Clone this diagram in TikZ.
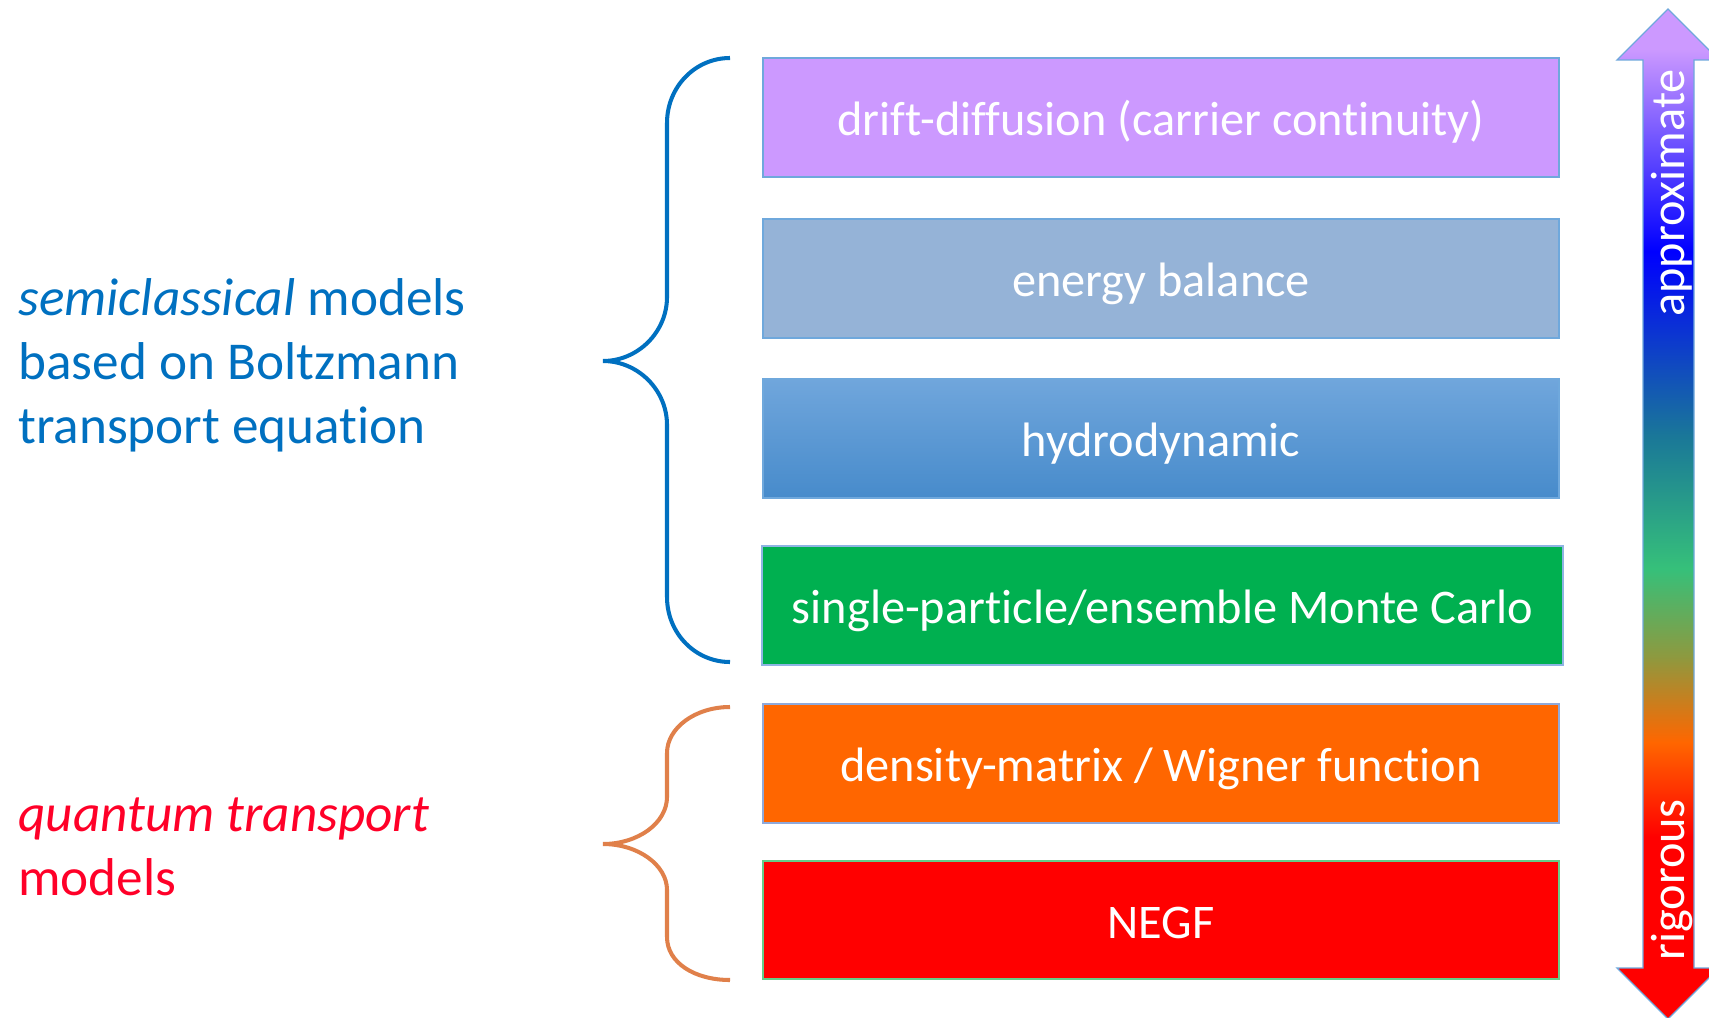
\documentclass[tikz,border=0pt]{standalone}
\usepackage{fontspec}
\setmainfont{Carlito}[Ligatures=NoCommon]

\definecolor{semiblue}{HTML}{0070C0}
\definecolor{quantred}{HTML}{FF0028}
\definecolor{braceorange}{HTML}{E0804A}
\definecolor{driftfill}{HTML}{CC99FF}
\definecolor{energyfill}{HTML}{95B3D7}
\definecolor{hydrotop}{HTML}{70A6DC}
\definecolor{hydromid}{HTML}{559ADC}
\definecolor{hydrobot}{HTML}{478BCB}
\definecolor{mcfill}{HTML}{00B050}
\definecolor{wignerfill}{HTML}{FF6600}
\definecolor{negffill}{HTML}{FF0000}
\definecolor{edgeblue}{HTML}{6FA8DC}
\definecolor{edgelight}{HTML}{8EB4E3}
\definecolor{edgegrey}{HTML}{8EA9DB}
\definecolor{edgegreen}{HTML}{66CC88}
\definecolor{arrlilac}{HTML}{CC99FF}
\definecolor{arrblue}{HTML}{0000FF}
\definecolor{arrteal}{HTML}{1A7898}
\definecolor{arrgreen}{HTML}{36C07A}
\definecolor{arrolive}{HTML}{8C9A40}
\definecolor{arrorange}{HTML}{FF6600}
\definecolor{arrred}{HTML}{FF0000}

\pgfdeclareverticalshading{accuracy}{100bp}{color(0bp)=(arrred); color(25bp)=(arrred);
  color(34bp)=(arrred); color(38.7bp)=(arrorange); color(43bp)=(arrolive);
  color(47.3bp)=(arrgreen); color(53.8bp)=(arrteal); color(63bp)=(arrblue);
  color(73bp)=(arrlilac); color(75bp)=(arrlilac); color(100bp)=(arrlilac)}

\begin{document}
\begin{tikzpicture}[x=0.02cm, y=-0.02cm,
    model/.style={draw=#1, line width=0.85pt, inner sep=0pt, minimum width=15.92cm,
      minimum height=2.38cm, text=white, text height=24.2pt, text depth=3.3pt,
      font=\fontsize{27.5pt}{32pt}\selectfont},
    model/.default=edgeblue,
    brace/.style={line width=2.3pt},
    side/.style={anchor=west, align=left, inner sep=0pt, font=\fontsize{30.3pt}{36.4pt}\selectfont},
    scale label/.style={rotate=90, text=white, font=\fontsize{27.5pt}{32pt}\selectfont}]
	\useasboundingbox (0,0) rectangle (1709,1017);
	% model boxes
	\node[model, fill=driftfill] (drift) at (1161,117.5) {drift-diffusion (carrier continuity)};
	\node[model, fill=energyfill] (energy) at (1161,278.5) {energy balance};
	\node[model, top color=hydrotop, middle color=hydromid, bottom color=hydrobot] (hydro) at (1161,438.5) {hydrodynamic};
	\node[model=edgelight, fill=mcfill, minimum width=16.02cm] (montecarlo) at (1162.5,605.5) {single-particle/ensemble Monte Carlo};
	\node[model=edgegrey, fill=wignerfill] (wigner) at (1161,763.5) {density-matrix / Wigner function};
	\node[model=edgegreen, fill=negffill, minimum height=2.36cm] (negf) at (1161,920) {NEGF};
	% braces
	\draw[brace, semiblue] (730,58) .. controls (695,58) and (667,87) .. (667,123) -- (667,297)
	  .. controls (667,332) and (638,361) .. (603,361) .. controls (638,361) and (667,390) .. (667,425)
	  -- (667,597) .. controls (667,633) and (695,662) .. (730,662);
	\draw[brace, braceorange] (730,707) .. controls (695,707) and (667,728) .. (667,753) -- (667,797)
	  .. controls (667,823) and (638,844) .. (603,844) .. controls (638,844) and (667,865) .. (667,890)
	  -- (667,937) .. controls (667,963) and (695,980) .. (730,980);
	\node[side, text=semiblue] (semiclassical) at (18,365) {\textit{semiclassical} models\\based on Boltzmann\\transport equation};
	\node[side, text=quantred] (quantum) at (18,847) {\textit{quantum transport}\\models};
	% accuracy arrow
	\shade[shading=accuracy, draw=edgeblue, line width=0.75pt]
	  (1643,60) -- (1617,60) -- (1668,9) -- (1719,60) -- (1694,60) -- (1694,968)
	  -- (1719,968) -- (1668,1019) -- (1617,968) -- (1643,968) -- cycle;
	\node[scale label] (approx) at (1672,193) {approximate};
	\node[scale label] (rigor) at (1672,880) {rigorous};
\end{tikzpicture}
\end{document}
